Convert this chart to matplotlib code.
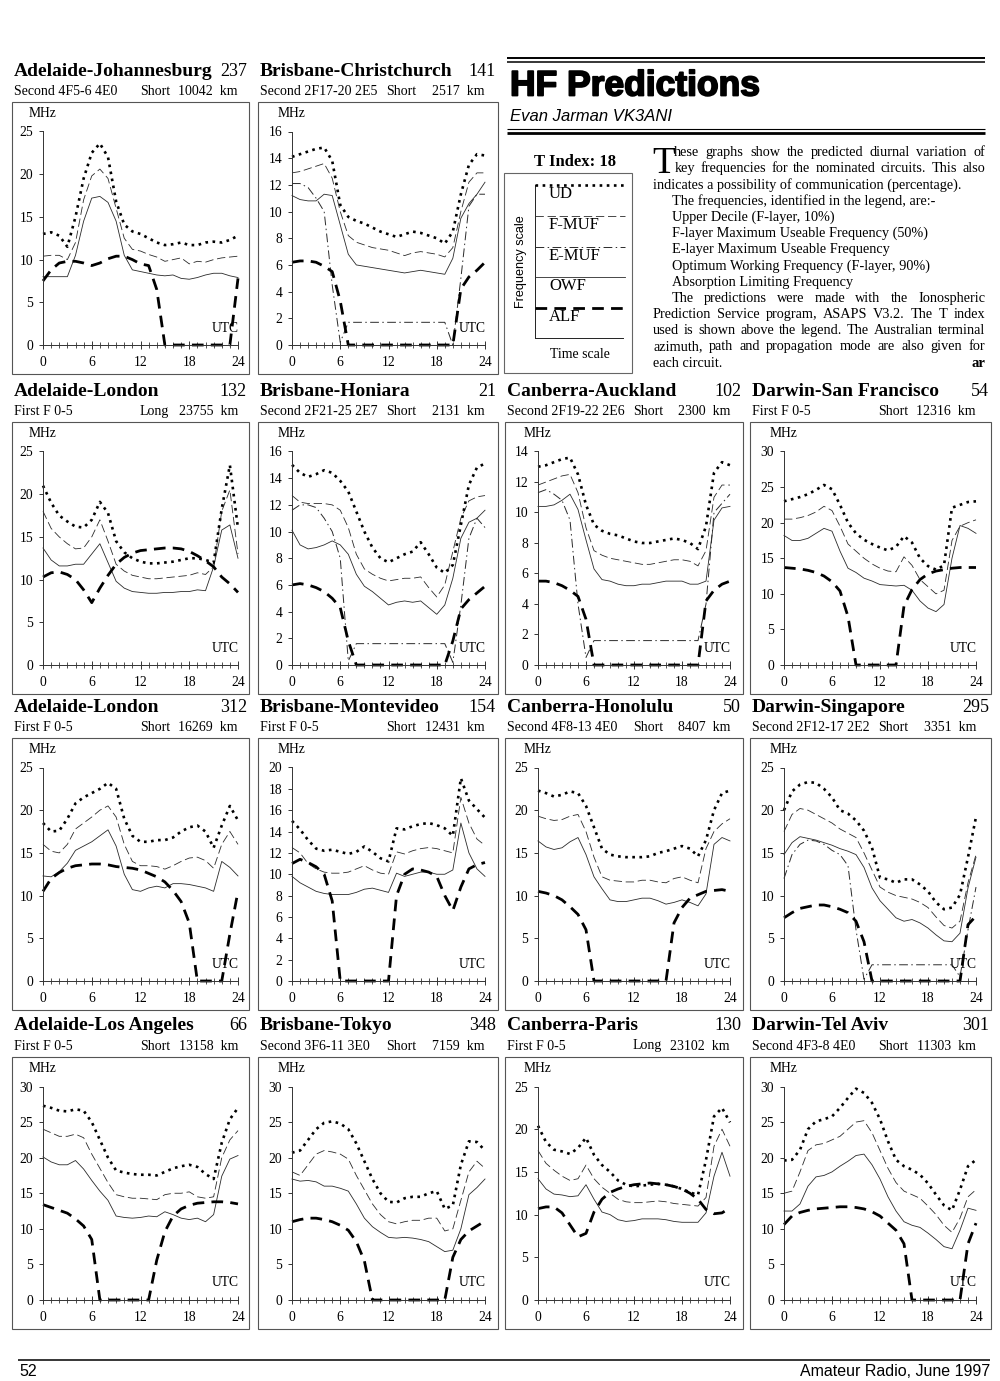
"""
HF Predictions page (Amateur Radio, June 1997) - diurnal frequency plots
for 14 circuits plus the legend / notes block.

Output: out.png
"""

import matplotlib
matplotlib.use("Agg")
import matplotlib.pyplot as plt
from matplotlib.patches import Rectangle
import matplotlib.patheffects as pe

plt.rcParams["font.family"] = "Liberation Serif"

SERIF = "Liberation Serif"
SANS = "Liberation Sans"

hours = list(range(25))

# ---- data (MHz, hourly 0..24 UTC) ----
# Adelaide-Johannesburg
adl_jnb_ud = [13.0, 13.2, 12.8, 11.5, 15.0, 19.5, 22.5, 23.6, 22.0, 16.8, 14.1, 13.3, 13.0, 12.5, 12.0, 11.7, 11.8, 12.0, 11.7, 11.7, 12.0, 12.1, 12.0, 12.3, 12.8]
adl_jnb_fmuf = [10.4, 10.5, 10.5, 10.0, 12.0, 17.0, 19.8, 20.6, 19.5, 16.0, 12.5, 11.2, 11.0, 10.6, 10.3, 9.8, 10.0, 10.2, 9.5, 9.8, 9.7, 10.0, 10.2, 10.3, 10.4]
adl_jnb_owf = [8.0, 8.0, 8.0, 8.0, 10.5, 14.5, 17.2, 17.4, 16.7, 14.5, 10.5, 8.8, 8.6, 8.4, 8.2, 8.1, 8.2, 7.8, 7.7, 7.9, 8.2, 8.4, 8.4, 8.1, 7.9]
adl_jnb_alf = [7.5, 8.8, 9.6, 9.8, 9.8, 9.6, 9.3, 9.6, 10.1, 10.4, 10.4, 10.0, 9.5, 9.3, 6.5, 0, 0, 0, 0, 0, 0, 0, 0, 0, 7.8]

# Brisbane-Christchurch
bne_chc_ud = [14.1, 14.3, 14.5, 14.7, 14.8, 13.8, 10.5, 9.6, 9.3, 9.1, 8.8, 8.5, 8.3, 8.1, 8.3, 8.5, 8.4, 8.2, 8.0, 7.6, 8.5, 11.3, 13.5, 14.3, 14.2]
bne_chc_fmuf = [12.9, 13.0, 13.2, 13.4, 13.6, 12.5, 10.0, 8.2, 7.7, 7.5, 7.3, 7.2, 7.1, 6.9, 6.7, 6.9, 7.0, 6.9, 6.8, 6.6, 7.3, 10.0, 12.2, 12.9, 12.9]
bne_chc_emuf = [12.1, 12.1, 11.8, 11.0, 10.0, 4.5, 0.2, 1.7, 1.7, 1.7, 1.7, 1.7, 1.7, 1.7, 1.7, 1.7, 1.7, 1.7, 1.7, 1.7, 0.0, 5.0, 10.4, 11.3, 11.3]
bne_chc_owf = [11.2, 10.9, 10.8, 10.8, 11.3, 11.2, 9.0, 6.8, 6.0, 5.9, 5.8, 5.7, 5.6, 5.5, 5.4, 5.5, 5.6, 5.5, 5.4, 5.3, 6.5, 9.5, 10.6, 11.3, 12.2]
bne_chc_alf = [6.2, 6.3, 6.3, 6.2, 5.9, 5.5, 3.3, 0, 0, 0, 0, 0, 0, 0, 0, 0, 0, 0, 0, 0, 0, 4.2, 5.1, 5.6, 6.2]

# Adelaide-London (long path)
adl_lonl_ud = [21.0, 19.0, 17.5, 16.8, 16.2, 16.1, 17.0, 19.1, 17.8, 14.5, 13.2, 12.5, 12.1, 11.9, 11.9, 12.0, 12.1, 12.3, 12.5, 12.5, 12.3, 12.0, 18.3, 23.4, 16.0]
adl_lonl_fmuf = [18.0, 16.0, 15.0, 14.2, 13.6, 13.7, 15.0, 17.0, 14.5, 11.8, 11.0, 10.5, 10.3, 10.1, 10.1, 10.2, 10.3, 10.4, 10.5, 10.8, 10.6, 11.5, 18.0, 20.5, 13.0]
adl_lonl_owf = [13.7, 12.3, 11.6, 11.6, 11.8, 11.8, 13.0, 14.2, 12.0, 9.8, 9.0, 8.6, 8.5, 8.4, 8.4, 8.5, 8.5, 8.6, 8.6, 8.8, 8.7, 11.5, 15.8, 16.4, 12.5]
adl_lonl_alf = [10.3, 10.8, 10.9, 10.6, 10.0, 8.8, 7.3, 9.0, 10.5, 11.8, 12.6, 13.1, 13.4, 13.5, 13.6, 13.7, 13.7, 13.6, 13.3, 12.8, 12.2, 11.5, 10.3, 9.5, 8.5]

# Brisbane-Honiara
bne_hir_ud = [15.0, 14.4, 14.1, 14.3, 14.6, 14.4, 13.8, 13.0, 11.5, 10.0, 8.8, 8.0, 7.7, 8.0, 8.3, 8.5, 9.2, 8.3, 7.3, 6.9, 7.5, 10.5, 13.5, 14.8, 15.1]
bne_hir_fmuf = [12.7, 12.2, 12.1, 12.1, 12.1, 12.0, 11.6, 10.3, 8.3, 7.2, 6.8, 6.5, 6.3, 6.4, 6.5, 6.5, 6.6, 5.8, 5.1, 6.0, 8.5, 11.0, 12.3, 12.6, 12.7]
bne_hir_emuf = [11.6, 12.0, 12.0, 11.8, 11.0, 10.0, 8.0, 0.3, 1.6, 1.6, 1.6, 1.6, 1.6, 1.6, 1.6, 1.6, 1.6, 1.6, 1.6, 1.6, 0.2, 4.5, 9.5, 11.0, 10.3]
bne_hir_owf = [10.1, 9.0, 8.7, 8.8, 9.0, 9.3, 9.0, 8.3, 6.8, 5.9, 5.5, 5.0, 4.5, 4.7, 4.8, 4.7, 4.8, 4.3, 3.8, 4.5, 6.5, 9.5, 10.7, 11.0, 11.6]
bne_hir_alf = [6.0, 6.1, 6.0, 5.8, 5.5, 5.0, 4.3, 1.8, 0, 0, 0, 0, 0, 0, 0, 0, 0, 0, 0, 0, 1.8, 4.2, 4.9, 5.4, 5.9]

# Canberra-Auckland
cbr_akl_ud = [13.0, 13.1, 13.3, 13.5, 13.6, 12.5, 10.5, 9.2, 8.8, 8.6, 8.5, 8.3, 8.1, 8.0, 8.0, 8.1, 8.2, 8.3, 8.2, 8.0, 7.6, 9.1, 12.6, 13.3, 13.1]
cbr_akl_fmuf = [11.8, 12.0, 12.2, 12.4, 12.5, 11.3, 9.0, 7.5, 7.2, 7.0, 6.9, 6.8, 6.7, 6.6, 6.6, 6.7, 6.8, 6.9, 6.9, 6.8, 6.5, 7.5, 11.0, 11.8, 11.8]
cbr_akl_emuf = [11.3, 11.5, 11.2, 10.8, 9.5, 4.0, 0.5, 1.6, 1.6, 1.6, 1.6, 1.6, 1.6, 1.6, 1.6, 1.6, 1.6, 1.6, 1.6, 1.6, 1.6, 4.0, 10.0, 10.6, 11.2]
cbr_akl_owf = [10.4, 10.4, 10.5, 10.8, 11.2, 10.2, 8.2, 6.3, 5.6, 5.5, 5.3, 5.2, 5.2, 5.3, 5.3, 5.4, 5.5, 5.5, 5.5, 5.3, 5.3, 5.5, 9.5, 10.3, 10.4]
cbr_akl_alf = [5.5, 5.5, 5.4, 5.2, 4.9, 4.5, 3.0, 0, 0, 0, 0, 0, 0, 0, 0, 0, 0, 0, 0, 0, 0, 4.2, 4.9, 5.3, 5.5]

# Darwin-San Francisco
drw_sfo_ud = [23.0, 23.3, 23.6, 24.0, 24.6, 25.3, 24.7, 22.5, 20.0, 18.5, 17.6, 17.0, 16.5, 16.1, 16.6, 18.1, 17.2, 15.0, 13.9, 13.4, 14.0, 22.1, 22.5, 22.9, 23.0]
drw_sfo_fmuf = [20.5, 20.5, 20.7, 21.0, 21.5, 22.3, 21.7, 19.5, 17.0, 16.0, 15.0, 14.2, 13.6, 13.2, 13.1, 15.2, 14.0, 12.0, 11.0, 10.0, 10.5, 17.5, 19.5, 20.0, 20.4]
drw_sfo_owf = [18.2, 17.5, 17.5, 17.8, 18.5, 19.2, 18.8, 16.0, 13.6, 13.0, 12.2, 11.8, 11.3, 11.2, 11.1, 11.2, 10.5, 9.0, 8.0, 7.5, 8.5, 15.0, 19.6, 19.2, 18.5]
drw_sfo_alf = [13.7, 13.6, 13.5, 13.3, 13.0, 12.5, 11.7, 10.4, 6.8, 0, 0, 0, 0, 0, 0, 8.3, 10.6, 12.0, 12.8, 13.2, 13.4, 13.6, 13.7, 13.7, 13.7]

# Adelaide-London (short path)
adl_lons_ud = [18.5, 17.5, 17.6, 19.0, 20.8, 21.5, 22.0, 22.5, 23.2, 22.5, 19.0, 17.0, 16.3, 16.3, 16.5, 16.5, 16.8, 17.5, 18.0, 18.2, 17.5, 15.6, 18.2, 20.5, 18.8]
adl_lons_fmuf = [16.0, 15.2, 15.0, 16.0, 17.8, 18.5, 19.2, 20.0, 20.5, 19.2, 16.0, 14.0, 13.5, 13.5, 13.4, 13.1, 13.5, 14.0, 14.4, 14.5, 14.1, 13.2, 16.0, 17.5, 16.0]
adl_lons_owf = [12.3, 12.2, 12.8, 13.8, 15.3, 15.8, 16.3, 17.0, 17.7, 15.8, 12.5, 10.7, 10.5, 10.9, 11.1, 10.9, 11.4, 11.4, 11.3, 11.1, 10.9, 10.5, 14.0, 13.3, 12.3]
adl_lons_alf = [10.5, 12.0, 12.7, 13.2, 13.5, 13.6, 13.7, 13.7, 13.6, 13.4, 13.3, 13.2, 13.0, 12.6, 12.2, 11.6, 10.6, 9.3, 6.8, 0, 0, 0, 0, 5.5, 10.5]

# Brisbane-Montevideo
bne_mvd_ud = [15.0, 14.2, 13.2, 12.4, 12.2, 12.3, 12.1, 11.9, 12.1, 12.6, 12.1, 11.5, 11.2, 14.3, 14.2, 14.5, 14.7, 14.8, 14.6, 14.3, 13.6, 19.0, 16.9, 16.1, 15.3]
bne_mvd_fmuf = [12.5, 12.0, 11.0, 10.5, 10.2, 10.1, 10.1, 10.2, 10.5, 10.8, 10.4, 10.1, 10.0, 12.1, 11.9, 12.2, 12.4, 12.5, 12.4, 12.2, 12.0, 17.2, 14.8, 13.3, 12.7]
bne_mvd_owf = [9.8, 9.2, 8.8, 8.4, 8.2, 8.1, 8.1, 8.1, 8.3, 8.6, 8.7, 8.5, 8.3, 10.1, 9.8, 10.0, 10.2, 10.2, 10.0, 10.0, 10.4, 14.8, 12.0, 10.5, 9.8]
bne_mvd_alf = [11.0, 11.4, 11.1, 10.7, 10.0, 7.5, 0, 0, 0, 0, 0, 0, 0, 8.0, 10.0, 10.5, 10.4, 10.2, 9.8, 8.0, 6.6, 8.8, 10.5, 10.9, 11.1]

# Canberra-Honolulu
cbr_hnl_ud = [22.3, 22.0, 21.6, 21.8, 22.2, 22.0, 20.5, 18.0, 15.5, 14.8, 14.6, 14.5, 14.5, 14.5, 14.6, 15.0, 15.2, 15.5, 15.8, 15.5, 14.6, 16.5, 20.0, 22.0, 22.3]
cbr_hnl_fmuf = [19.3, 19.0, 18.8, 18.9, 19.3, 19.5, 17.5, 14.5, 12.2, 11.8, 11.7, 11.6, 11.6, 11.8, 11.8, 11.6, 11.5, 12.0, 12.2, 11.8, 11.5, 15.5, 17.5, 18.4, 19.0]
cbr_hnl_owf = [16.4, 15.7, 15.4, 15.6, 16.3, 16.8, 14.8, 12.2, 10.8, 9.5, 9.3, 9.3, 9.5, 9.7, 9.7, 9.4, 9.0, 9.2, 9.5, 9.2, 8.8, 10.2, 16.0, 16.8, 16.4]
cbr_hnl_alf = [10.5, 10.3, 10.0, 9.5, 8.7, 7.8, 6.0, 0, 0, 0, 0, 0, 0, 0, 0, 0, 0, 6.8, 8.6, 9.7, 10.1, 10.5, 10.6, 10.7, 10.5]

# Darwin-Singapore
drw_sin_ud = [20.0, 22.2, 23.0, 23.3, 23.2, 22.5, 21.5, 20.0, 19.6, 18.8, 17.6, 15.6, 12.1, 11.9, 11.5, 11.9, 11.9, 11.3, 10.5, 9.2, 8.4, 8.6, 10.1, 14.5, 19.2]
drw_sin_fmuf = [17.5, 19.5, 20.2, 20.0, 19.5, 19.0, 18.5, 17.8, 17.3, 16.8, 15.0, 13.0, 11.0, 10.4, 10.0, 9.8, 9.6, 9.2, 8.6, 7.5, 6.5, 6.2, 7.0, 11.5, 14.8]
drw_sin_emuf = [12.0, 14.8, 16.0, 16.5, 16.4, 16.0, 15.3, 14.8, 13.5, 6.0, 0.2, 1.9, 1.9, 1.9, 1.9, 1.9, 1.9, 1.9, 1.9, 1.9, 1.9, 1.9, 0.5, 6.0, 11.0]
drw_sin_owf = [14.8, 16.2, 16.9, 16.7, 16.5, 16.2, 15.9, 15.5, 15.2, 14.8, 13.3, 10.9, 9.4, 8.4, 7.4, 7.0, 7.2, 6.8, 6.2, 5.4, 4.7, 4.6, 5.6, 10.9, 14.5]
drw_sin_alf = [7.4, 8.0, 8.5, 8.7, 8.9, 8.9, 8.7, 8.4, 8.0, 7.0, 4.6, 0, 0, 0, 0, 0, 0, 0, 0, 0, 0, 0, 0, 6.6, 7.6]

# Adelaide-Los Angeles
adl_lax_ud = [27.3, 27.0, 26.6, 26.5, 26.8, 26.6, 25.0, 22.5, 20.0, 18.2, 17.9, 17.7, 17.6, 17.6, 17.5, 18.0, 18.5, 18.8, 19.0, 18.7, 17.7, 17.0, 22.1, 25.4, 27.0]
adl_lax_fmuf = [24.0, 23.5, 23.0, 23.0, 23.3, 22.8, 20.5, 18.5, 16.5, 14.8, 14.5, 14.3, 14.3, 14.2, 14.1, 14.8, 15.0, 15.0, 15.2, 14.5, 14.3, 14.5, 20.0, 22.5, 23.8]
adl_lax_owf = [20.1, 19.4, 19.0, 19.0, 19.6, 18.4, 16.8, 15.3, 14.0, 11.8, 11.6, 11.5, 11.6, 11.8, 11.7, 12.4, 12.0, 11.5, 11.3, 11.5, 11.0, 12.0, 17.4, 19.8, 20.3]
adl_lax_alf = [13.4, 13.0, 12.6, 12.2, 11.4, 10.4, 8.5, 0, 0, 0, 0, 0, 0, 0, 5.6, 9.6, 11.8, 12.8, 13.3, 13.6, 13.7, 13.8, 13.8, 13.7, 13.5]

# Brisbane-Tokyo
bne_tyo_ud = [20.7, 21.0, 22.5, 24.0, 24.9, 25.1, 24.8, 24.0, 22.0, 19.5, 17.0, 15.0, 13.8, 13.7, 14.3, 14.5, 14.5, 15.0, 15.3, 12.8, 13.3, 19.0, 22.3, 22.2, 21.0]
bne_tyo_fmuf = [18.0, 17.5, 19.0, 20.5, 21.0, 20.8, 20.5, 19.8, 17.5, 15.5, 13.5, 12.0, 11.0, 10.7, 11.0, 11.2, 11.2, 11.5, 11.5, 9.7, 10.0, 14.0, 18.0, 19.5, 18.5]
bne_tyo_owf = [17.0, 16.7, 16.8, 16.6, 16.0, 16.0, 15.7, 15.3, 13.5, 11.5, 10.3, 9.5, 8.8, 8.7, 8.8, 8.7, 8.5, 8.2, 7.5, 6.8, 7.0, 10.0, 14.8, 15.8, 17.0]
bne_tyo_alf = [11.0, 11.3, 11.5, 11.5, 11.3, 11.0, 10.5, 9.8, 8.2, 5.5, 0, 0, 0, 0, 0, 0, 0, 0, 0, 0, 6.0, 8.5, 9.7, 10.4, 11.1]

# Canberra-Paris
cbr_par_ud = [20.4, 18.5, 17.6, 17.4, 17.1, 17.8, 19.0, 17.0, 15.8, 15.0, 14.0, 13.5, 13.3, 13.4, 13.5, 13.6, 13.5, 13.3, 13.0, 12.6, 12.3, 16.4, 21.5, 22.5, 20.8]
cbr_par_fmuf = [17.5, 16.0, 15.2, 14.5, 14.0, 14.2, 15.8, 14.2, 13.2, 12.5, 11.8, 11.5, 11.4, 11.4, 11.5, 11.6, 11.5, 11.3, 11.2, 11.1, 11.0, 12.0, 18.0, 20.0, 18.0]
cbr_par_owf = [14.2, 13.0, 12.4, 12.3, 12.1, 12.2, 13.5, 11.8, 10.3, 10.0, 9.4, 9.2, 9.3, 9.5, 9.5, 9.5, 9.4, 9.2, 9.1, 9.1, 9.1, 10.2, 14.5, 17.3, 14.5]
cbr_par_alf = [10.7, 10.9, 10.9, 10.2, 8.8, 7.4, 7.8, 10.3, 11.8, 12.6, 13.0, 13.3, 13.5, 13.6, 13.7, 13.6, 13.5, 13.3, 13.0, 12.5, 11.8, 10.6, 10.1, 10.2, 10.8]

# Darwin-Tel Aviv
drw_tlv_ud = [19.6, 19.7, 21.1, 24.0, 25.1, 25.4, 25.8, 27.0, 28.4, 29.7, 29.1, 27.7, 25.4, 22.3, 19.7, 18.8, 18.3, 17.6, 16.4, 14.8, 13.3, 12.6, 15.5, 18.8, 19.7]
drw_tlv_fmuf = [15.0, 15.3, 18.0, 21.0, 21.8, 22.0, 22.5, 23.0, 24.0, 25.0, 25.2, 23.5, 21.0, 18.5, 16.5, 15.3, 14.8, 14.3, 13.2, 12.0, 10.5, 9.5, 11.5, 14.5, 15.5]
drw_tlv_owf = [12.5, 12.5, 13.5, 16.0, 17.3, 17.5, 18.0, 18.8, 19.5, 20.3, 20.5, 19.0, 17.0, 14.5, 12.5, 11.0, 10.5, 10.2, 9.4, 8.5, 7.5, 7.2, 9.8, 12.9, 12.6]
drw_tlv_alf = [10.6, 11.8, 12.3, 12.6, 12.8, 12.9, 13.0, 13.1, 13.1, 13.0, 12.8, 12.4, 11.8, 10.8, 9.8, 7.9, 0, 0, 0, 0, 0, 0, 0, 7.9, 10.8]

# ---- circuit headers ----
circuits = [
    # row, col, name, bearing, mode, path, distance, ymax, ystep, ud, fmuf, emuf, owf, alf
    (0, 0, "Adelaide-Johannesburg", "237", "Second 4F5-6 4E0", "Short", "10042  km", 25, 5,
     adl_jnb_ud, adl_jnb_fmuf, None, adl_jnb_owf, adl_jnb_alf),
    (0, 1, "Brisbane-Christchurch", "141", "Second 2F17-20 2E5", "Short", "2517  km", 16, 2,
     bne_chc_ud, bne_chc_fmuf, bne_chc_emuf, bne_chc_owf, bne_chc_alf),
    (1, 0, "Adelaide-London", "132", "First F 0-5", "Long", "23755  km", 25, 5,
     adl_lonl_ud, adl_lonl_fmuf, None, adl_lonl_owf, adl_lonl_alf),
    (1, 1, "Brisbane-Honiara", "21", "Second 2F21-25 2E7", "Short", "2131  km", 16, 2,
     bne_hir_ud, bne_hir_fmuf, bne_hir_emuf, bne_hir_owf, bne_hir_alf),
    (1, 2, "Canberra-Auckland", "102", "Second 2F19-22 2E6", "Short", "2300  km", 14, 2,
     cbr_akl_ud, cbr_akl_fmuf, cbr_akl_emuf, cbr_akl_owf, cbr_akl_alf),
    (1, 3, "Darwin-San Francisco", "54", "First F 0-5", "Short", "12316  km", 30, 5,
     drw_sfo_ud, drw_sfo_fmuf, None, drw_sfo_owf, drw_sfo_alf),
    (2, 0, "Adelaide-London", "312", "First F 0-5", "Short", "16269  km", 25, 5,
     adl_lons_ud, adl_lons_fmuf, None, adl_lons_owf, adl_lons_alf),
    (2, 1, "Brisbane-Montevideo", "154", "First F 0-5", "Short", "12431  km", 20, 2,
     bne_mvd_ud, bne_mvd_fmuf, None, bne_mvd_owf, bne_mvd_alf),
    (2, 2, "Canberra-Honolulu", "50", "Second 4F8-13 4E0", "Short", "8407  km", 25, 5,
     cbr_hnl_ud, cbr_hnl_fmuf, None, cbr_hnl_owf, cbr_hnl_alf),
    (2, 3, "Darwin-Singapore", "295", "Second 2F12-17 2E2", "Short", "3351  km", 25, 5,
     drw_sin_ud, drw_sin_fmuf, drw_sin_emuf, drw_sin_owf, drw_sin_alf),
    (3, 0, "Adelaide-Los Angeles", "66", "First F 0-5", "Short", "13158  km", 30, 5,
     adl_lax_ud, adl_lax_fmuf, None, adl_lax_owf, adl_lax_alf),
    (3, 1, "Brisbane-Tokyo", "348", "Second 3F6-11 3E0", "Short", "7159  km", 30, 5,
     bne_tyo_ud, bne_tyo_fmuf, None, bne_tyo_owf, bne_tyo_alf),
    (3, 2, "Canberra-Paris", "130", "First F 0-5", "Long", "23102  km", 25, 5,
     cbr_par_ud, cbr_par_fmuf, None, cbr_par_owf, cbr_par_alf),
    (3, 3, "Darwin-Tel Aviv", "301", "Second 4F3-8 4E0", "Short", "11303  km", 30, 5,
     drw_tlv_ud, drw_tlv_fmuf, None, drw_tlv_owf, drw_tlv_alf),
]

# ---- page geometry (pixels, page is 1000 x 1381) ----
W, H = 1000, 1381
COLS = [(12, 249, 43, 238), (258, 498, 292, 485), (505, 743, 538, 730), (750, 991, 784, 976)]
ROW_TOPS = [102, 422, 738, 1057]
BOX_H = 272
AX_TOP = 29.5
AX_ZERO = 243

STYLES = {
    "owf": dict(color="#2a2a2a", lw=0.6, ls="-"),
    "emuf": dict(color="#2a2a2a", lw=0.7, ls=(0, (9, 3.5, 1.5, 3.5))),
    "fmuf": dict(color="#2a2a2a", lw=0.6, ls=(0, (10, 4.5))),
    "ud": dict(color="black", lw=1.9, ls=(0, (1, 1.7)), dash_capstyle="butt"),
    "alf": dict(color="black", lw=2.0, ls=(0, (4.2, 2.6)), dash_capstyle="butt"),
}

fig = plt.figure(figsize=(W / 100, H / 100), dpi=100)
fig.patch.set_facecolor("white")

# page overlay in pixel coordinates
bg = fig.add_axes([0, 0, 1, 1])
bg.set_xlim(0, W)
bg.set_ylim(H, 0)
bg.axis("off")

renderer = fig.canvas.get_renderer()


def text_right(t):
    return t.get_window_extent(renderer=renderer).x1


for (row, col, name, bearing, mode, path, dist, ymax, ystep,
     ud, fmuf, emuf, owf, alf) in circuits:
    bl, br, x0, x24 = COLS[col]
    top = ROW_TOPS[row]
    zero = top + AX_ZERO

    # outer box
    bg.add_patch(Rectangle((bl, top), br - bl, BOX_H, fill=False, lw=0.8, ec="#555555"))

    # headers
    bg.text(bl + 2, top - 31, name, fontsize=14, fontweight="bold", family=SERIF,
            ha="left", va="center")
    bg.text(br - 2, top - 31, bearing, fontsize=13, family=SERIF, ha="right", va="center")
    t_mode = bg.text(bl + 2, top - 11, mode, fontsize=10, family=SERIF, ha="left", va="center")
    px = max(bl + 128, text_right(t_mode) + 5)
    bg.text(px, top - 11, path, fontsize=10, family=SERIF, ha="left", va="center")
    bg.text(x24, top - 11, dist, fontsize=10, family=SERIF, ha="right", va="center")

    bg.text(x0, top + 11, "MHz", fontsize=9.8, family=SERIF, ha="center", va="center")
    bg.text(x24 + 1, zero - 17, "UTC", fontsize=9.8, family=SERIF, ha="right", va="center")

    ax = fig.add_axes([x0 / W, 1 - zero / H, (x24 - x0) / W, (AX_ZERO - AX_TOP) / H])
    ax.set_facecolor("none")
    ax.plot(hours, owf, clip_on=False, **STYLES["owf"])
    if emuf is not None:
        ax.plot(hours, emuf, clip_on=False, **STYLES["emuf"])
    ax.plot(hours, fmuf, clip_on=False, **STYLES["fmuf"])
    ax.plot(hours, ud, clip_on=False, **STYLES["ud"])
    ax.plot(hours, alf, clip_on=False, **STYLES["alf"])

    ax.set_xlim(0, 24)
    ax.set_ylim(0, ymax)
    ax.set_xticks(range(0, 25, 6))
    ax.set_xticks(range(25), minor=True)
    ax.set_yticks(range(0, ymax + 1, ystep))
    for s in ("top", "right"):
        ax.spines[s].set_visible(False)
    for s in ("left", "bottom"):
        ax.spines[s].set_linewidth(0.7)
        ax.spines[s].set_color("#333333")
    ax.tick_params(axis="x", which="major", direction="inout", length=6, width=0.7,
                   labelsize=9.8, pad=5, color="#333333")
    ax.tick_params(axis="x", which="minor", direction="inout", length=4, width=0.6,
                   color="#333333")
    ax.tick_params(axis="y", direction="out", length=3, width=0.7, labelsize=9.8, pad=4,
                   color="#333333")

# ---- title block ----
bg.plot([507, 985], [58, 58], color="black", lw=1.4, solid_capstyle="butt")
bg.plot([507, 985], [61.5, 61.5], color="black", lw=1.1, solid_capstyle="butt")
bg.text(510, 86, "HF Predictions", fontsize=25.5, fontweight="bold", family=SANS,
        ha="left", va="center",
        path_effects=[pe.withStroke(linewidth=1.3, foreground="black")])
bg.text(510, 116, "Evan Jarman VK3ANI", fontsize=12, style="italic", family=SANS,
        ha="left", va="center")
bg.plot([507, 985], [128.5, 128.5], color="black", lw=0.8, solid_capstyle="butt")
bg.plot([507, 985], [132.5, 132.5], color="black", lw=2.0, solid_capstyle="butt")

# ---- legend ----
bg.text(575, 162, "T Index: 18", fontsize=12, fontweight="bold", family=SERIF,
        ha="center", va="center")
bg.add_patch(Rectangle((504, 173), 128, 200, fill=False, lw=0.8, ec="#666666"))
bg.plot([535, 535], [185, 338], color="#222222", lw=0.7)
bg.plot([535, 623], [338, 338], color="#222222", lw=0.7)
legend_rows = [("ud", "UD", 185), ("fmuf", "F-MUF", 216), ("emuf", "E-MUF", 247),
               ("owf", "OWF", 277), ("alf", "ALF", 308)]
for key, label, yy in legend_rows:
    bg.plot([535, 625], [yy, yy], **STYLES[key])
    bg.text(549, yy + 9, label, fontsize=12, family=SERIF, ha="left", va="center")
bg.text(521, 262, "Frequency scale", fontsize=9.1, family=SANS, rotation=90,
        ha="center", va="center")
bg.text(580, 354, "Time scale", fontsize=10, family=SERIF, ha="center", va="center")

# ---- notes text ----
BODY = dict(fontsize=10.3, family=SERIF, va="baseline", ha="left")
RIGHT = 985


def justified(x_left, y, line):
    words = line.split()
    items = [bg.text(x_left, y, w, **BODY) for w in words]
    widths = [t.get_window_extent(renderer=renderer).width for t in items]
    gap = (RIGHT - x_left - sum(widths)) / (len(words) - 1)
    x = x_left
    for t, w in zip(items, widths):
        t.set_x(x)
        x += w + gap


note_lines = [
    (674, "hese graphs show the predicted diurnal variation of", True),
    (675, "key frequencies for the nominated circuits. This also", True),
    (653, "indicates a possibility of communication (percentage).", False),
    (672, "The frequencies, identified in the legend, are:-", False),
    (672, "Upper Decile (F-layer, 10%)", False),
    (672, "F-layer Maximum Useable Frequency (50%)", False),
    (672, "E-layer Maximum Useable Frequency", False),
    (672, "Optimum Working Frequency (F-layer, 90%)", False),
    (672, "Absorption Limiting Frequency", False),
    (672, "The predictions were made with the Ionospheric", True),
    (653, "Prediction Service program, ASAPS V3.2. The T index", True),
    (653, "used is shown above the legend. The Australian terminal", True),
    (653, "azimuth, path and propagation mode are also given for", True),
    (653, "each circuit.", False),
]
bg.text(652, 172.5, "T", fontsize=27, family=SERIF, ha="left", va="baseline")
for i, (xl, line, just) in enumerate(note_lines):
    yb = 156 + 16.2 * i
    if just:
        justified(xl, yb, line)
    else:
        bg.text(xl, yb, line, **BODY)
bg.text(RIGHT, 156 + 16.2 * 13, "ar", fontsize=10.5, fontweight="bold", family=SERIF,
        ha="right", va="baseline")

# ---- footer ----
FOOT = dict(fontsize=11.5, family=SANS, va="center")
bg.plot([18, 990], [1360, 1360], color="black", lw=1.1, solid_capstyle="butt")
bg.text(19, 1371, "52", ha="left", **FOOT)
bg.text(990, 1371, "Amateur Radio, June 1997", ha="right", **FOOT)

fig.savefig("out.png", dpi=100, facecolor="white")
